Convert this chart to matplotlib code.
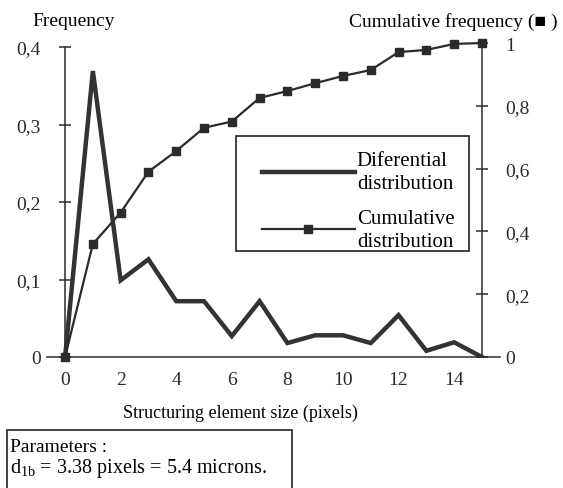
import matplotlib
import matplotlib.pyplot as plt
from matplotlib.patches import Rectangle

matplotlib.use('Agg')

# --- data ---
sizes = list(range(16))
diff_freq = [0, 0.369, 0.099, 0.126, 0.072, 0.072, 0.027, 0.072,
             0.018, 0.028, 0.028, 0.018, 0.054, 0.008, 0.019, 0]
cum_freq = [0, 0.36, 0.46, 0.59, 0.656, 0.73, 0.75, 0.825,
            0.847, 0.872, 0.895, 0.914, 0.971, 0.978, 0.997, 1.0]

left_ticks = [0, 0.1, 0.2, 0.3, 0.4]
left_labels = ['0', '0,1', '0,2', '0,3', '0,4']
right_ticks = [0, 0.2, 0.4, 0.6, 0.8, 1.0]
right_labels = ['0', '0,2', '0,4', '0,6', '0,8', '1']
x_ticks = [0, 2, 4, 6, 8, 10, 12, 14]

plt.rcParams['font.family'] = ['Liberation Serif', 'DejaVu Serif']
plt.rcParams['font.size'] = 14

W, H = 563, 489
fig = plt.figure(figsize=(W / 100, H / 100), dpi=100)

# axes box in pixels: x 47..500, y 44..358 (from top)
ax = fig.add_axes([47 / W, (H - 358) / H, 453 / W, 314 / H])
ax2 = ax.twinx()

dark = '#2b2b2b'

ax.plot(sizes, diff_freq, color='#333333', lw=3.2, solid_joinstyle='miter',
        label='Diferential\ndistribution', zorder=3)
ax2.plot(sizes, cum_freq, color=dark, lw=1.6, marker='s', ms=5.5,
         label='Cumulative\ndistribution', clip_on=False, zorder=3)

ax.set_xlim(-0.65, 15.65)
ax.set_ylim(0, 0.4 * 314 / 310)
ax2.set_ylim(0, 1.0)

# spines
for s in ['top', 'right']:
    ax.spines[s].set_visible(False)
for s in ['top', 'left', 'bottom']:
    ax2.spines[s].set_visible(False)
ax.spines['left'].set_position(('data', 0))
ax.spines['left'].set_bounds(0, 0.4)
ax2.spines['right'].set_position(('data', 15))
ax2.spines['right'].set_bounds(0, 1.0)
for sp in [ax.spines['left'], ax.spines['bottom'], ax2.spines['right']]:
    sp.set_linewidth(1.1)
    sp.set_color(dark)

ax.set_yticks(left_ticks)
ax.set_yticklabels(left_labels)
ax.tick_params(axis='y', direction='inout', length=9, width=1.1, pad=13, colors=dark)
ax.set_xticks(x_ticks)
ax.set_xticklabels([str(v) for v in x_ticks])
ax.tick_params(axis='x', length=0, pad=10, colors=dark)

ax2.set_yticks(right_ticks)
ax2.set_yticklabels(right_labels)
ax2.tick_params(axis='y', direction='inout', length=9, width=1.1, pad=12, colors=dark)

# titles / axis names
fig.text(32 / W, 1 - 22 / H, 'Frequency', ha='left', va='center', fontsize=14)
fig.text(558 / W, 1 - 22 / H, 'Cumulative frequency (\u25a0 )', ha='right', va='center', fontsize=14)
fig.text(240 / W, 1 - 413 / H, 'Structuring element size (pixels)', ha='center', va='center', fontsize=13)

# legend (frame drawn separately so it can sit exactly where the reference box is)
h1, l1 = ax.get_legend_handles_labels()
h2, l2 = ax2.get_legend_handles_labels()
leg = ax2.legend(h1 + h2, l1 + l2, loc='upper left',
                 bbox_to_anchor=(262 / W, 1 - 152 / H), bbox_transform=fig.transFigure,
                 borderaxespad=0, borderpad=0, frameon=False,
                 handlelength=4.45, handletextpad=0.1, labelspacing=0.78,
                 fontsize=15, numpoints=1)
for t in leg.get_texts():
    t.set_linespacing(1.26)
fig.patches.append(Rectangle((236 / W, 1 - 252 / H), 233 / W, 115 / H,
                             transform=fig.transFigure, fill=False,
                             edgecolor='#222222', lw=1.2))

# parameters box at bottom
fig.patches.append(Rectangle((7 / W, -0.05), 285 / W, 0.05 + (H - 431) / H,
                             transform=fig.transFigure, fill=False,
                             edgecolor='#222222', lw=1.2))
fig.text(10 / W, 1 - 448 / H, 'Parameters :', ha='left', va='center', fontsize=14)
fig.text(10 / W, 1 - 469 / H, 'd$_{\\mathregular{1b}}$ = 3.38 pixels = 5.4 microns.',
         ha='left', va='center', fontsize=14.5)

fig.savefig('out.png', dpi=100)
